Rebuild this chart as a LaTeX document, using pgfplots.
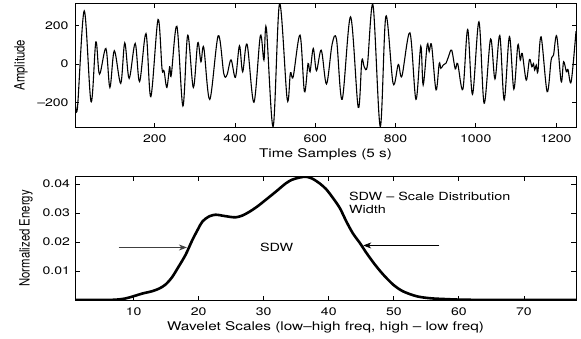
\documentclass[border=0pt]{standalone}
\usepackage{fontspec}
\setmainfont{TeX Gyre Heros}[FakeStretch=1.28]
\newfontfamily\ylfont{TeX Gyre Heros}
\usepackage{graphicx}
\usepackage{pgfplots}
\pgfplotsset{compat=1.18}
\usetikzlibrary{arrows.meta}

\pgfplotstableread{
x y
1 -170
7 -229
24 276
41 -195
53 115
62 -52
78 81
88 -121
99 69
115 -100
125 110
136 -74
151 107
162 -91
178 158
190 -169
208 231
218 -25
223 -35
230 -121
237 -14
241 -57
255 196
270 -217
282 150
296 -121
307 110
315 12
322 86
337 -183
358 147
372 -50
380 -55
390 22
401 -69
411 95
419 -40
430 103
447 -198
463 146
472 21
478 188
495 -324
511 314
530 -183
538 -45
545 -65
562 150
573 -143
582 3
587 -40
595 81
603 -34
615 72
628 -103
642 103
653 127
667 -183
688 245
707 -224
716 17
722 -14
730 -5
744 305
762 -324
776 248
794 -100
807 -2
816 -62
836 162
851 -183
863 93
869 -108
879 100
884 65
890 98
901 -134
909 3
913 -22
919 -5
926 5
932 38
940 72
949 -25
955 3
968 -130
980 179
992 -157
1008 219
1021 -203
1037 130
1048 -77
1060 148
1071 -186
1084 143
1095 -130
1105 98
1111 21
1116 55
1126 -83
1134 24
1140 -14
1144 3
1147 -31
1151 -5
1155 -40
1163 141
1178 -143
1188 21
1194 47
1202 145
1213 -91
1219 12
1226 -40
1230 -28
1238 -91
1250 170
}\signal

\pgfplotstableread{
x y
1 0
4 0
6 0.00005
7.2 0.0001
8.7 0.0005
10 0.0013
11.3 0.0022
12.8 0.003
13.9 0.0039
14.9 0.0053
15.9 0.0078
16.9 0.0114
18 0.0156
19 0.0205
19.9 0.0244
20.6 0.0271
21.6 0.0288
22.6 0.0294
23.6 0.0291
24.7 0.0287
25.7 0.0285
26.7 0.0291
27.8 0.0304
29 0.0322
30.3 0.0345
31.9 0.0374
33.4 0.0402
34.4 0.0415
35.5 0.0422
36.5 0.0425
37.5 0.0418
38.6 0.0402
39.6 0.0382
40.6 0.0353
41.7 0.0317
42.7 0.0271
43.7 0.0230
44.8 0.0196
45.8 0.0162
47.1 0.0122
48.4 0.0087
49.9 0.0053
51.4 0.003
53.5 0.0013
55.6 0.0006
58.1 0.0003
60.7 0.0001
65 0.00003
70 0
78 0
}\energy

\pgfplotsset{
  mat/.style={
    scale only axis,
    width=501bp,
    axis line style={line width=0.9bp},
    tick align=inside,
    major tick length=4.5bp,
    tick style={line width=0.8bp, black},
    xticklabel style={font=\fontsize{11}{13}\selectfont, anchor=base, yshift=-15.7bp},
    yticklabel style={font=\fontsize{11}{13}\selectfont, anchor=east},
    xlabel style={font=\fontsize{12}{14}\selectfont, at={(axis description cs:0.5,0)}, anchor=base, yshift=-30bp},
    ylabel style={font=\ylfont\fontsize{11.4}{13}\selectfont, anchor=center},
    scaled ticks=false,
  }
}

\begin{document}
\begin{tikzpicture}
\useasboundingbox (0bp,0bp) rectangle (581bp,-339bp);

\begin{axis}[mat,
  at={(75bp,-127bp)}, anchor=south west,
  height=123.7bp,
  xmin=1, xmax=1250, ymin=-326, ymax=315,
  xtick={200,400,600,800,1000,1200},
  xticklabels={200,400,600,800,1000,1200},
  ytick={-200,0,200},
  yticklabels={–200,0,200},
  yticklabel style={xshift=-3bp},
  xlabel={Time Samples (5 s)},
  ylabel={\scalebox{1}[1.25]{Amplitude}},
  ylabel style={at={(axis description cs:-0.1078,0.5)}},
]
\addplot[black, line width=1.1bp, smooth, tension=0.55] table[x=x,y=y] {\signal};
\end{axis}

\begin{axis}[mat,
  at={(75bp,-300bp)}, anchor=south west,
  height=123.3bp,
  xmin=1, xmax=78, ymin=0, ymax=0.0425,
  xtick={10,20,30,40,50,60,70},
  xticklabels={10,20,30,40,50,60,70},
  ytick={0.01,0.02,0.03,0.04},
  yticklabels={0.01,0.02,0.03,0.04},
  yticklabel style={xshift=-1.5bp},
  xlabel={Wavelet Scales (low–high freq, high – low freq)},
  ylabel={\scalebox{1}[1.25]{Normalized Energy}},
  ylabel style={at={(axis description cs:-0.0978,0.5)}},
]
\addplot[black, line width=2.6bp, smooth, tension=0.5] table[x=x,y=y] {\energy};
\draw[black!75, line width=0.8bp, -{Stealth[length=8bp, width=6bp, inset=2.5bp]}] (axis cs:7.7,0.0181) -- (axis cs:18.2,0.0181);
\draw[black, line width=0.7bp, -{Stealth[length=8bp, width=6bp, inset=2.5bp]}] (axis cs:57,0.0188) -- (axis cs:45.3,0.0188);
\node[font=\fontsize{11.3}{13.3}\selectfont, inner sep=0pt, anchor=center] at (axis cs:32,0.0182) {SDW};
\node[font=\fontsize{11.3}{13.3}\selectfont, inner sep=0pt, anchor=north west, align=left] at (axis cs:43.1,0.0374) {SDW – Scale Distribution\\Width};
\end{axis}
\end{tikzpicture}
\end{document}
